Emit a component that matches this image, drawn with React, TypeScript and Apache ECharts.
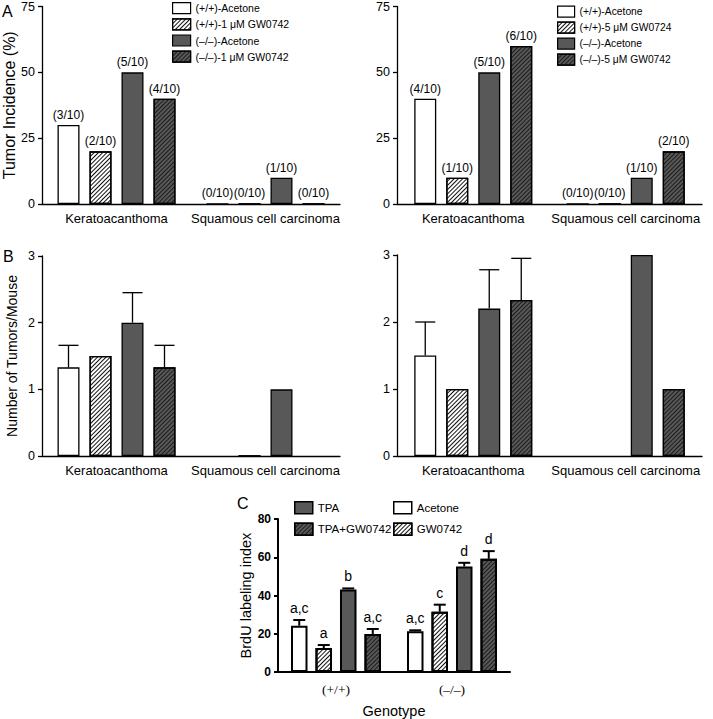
import React, { useEffect, useRef } from 'react';
import * as echarts from 'echarts';

// ---------- data ----------
const tumorTypes = ['Keratoacanthoma', 'Squamous cell carcinoma'];
const legendA1 = ['(+/+)-Acetone', '(+/+)-1 μM GW0742', '(–/–)-Acetone', '(–/–)-1 μM GW0742'];
const legendA2 = ['(+/+)-Acetone', '(+/+)-5 μM GW0724', '(–/–)-Acetone', '(–/–)-5 μM GW0742'];

// [group][tumor type]
const incidenceLeft = [[30, 0], [20, 0], [50, 10], [40, 0]];
const incidenceLeftLabels = [['(3/10)', '(0/10)'], ['(2/10)', '(0/10)'], ['(5/10)', '(1/10)'], ['(4/10)', '(0/10)']];
const incidenceRight = [[40, 0], [10, 0], [50, 10], [60, 20]];
const incidenceRightLabels = [['(4/10)', '(0/10)'], ['(1/10)', '(0/10)'], ['(5/10)', '(1/10)'], ['(6/10)', '(2/10)']];

const tumorsLeft = [[1.33, null], [1.5, 0], [2.0, 1.0], [1.33, null]];
const tumorsLeftErr = [[1.66, null], [null, null], [2.45, null], [1.66, null]];
const tumorsRight = [[1.5, null], [1.0, null], [2.2, 3.0], [2.33, 1.0]];
const tumorsRightErr = [[2.0, null], [null, null], [2.78, null], [2.95, null]];

const genotypes = ['(+/+)', '(–/–)'];
const brduGroups = ['Acetone', 'GW0742', 'TPA', 'TPA+GW0742'];
const brduMean = [[24.2, 21.3], [12.5, 31.5], [43.2, 55.2], [19.9, 59.2]];
const brduErr = [[27.2, 21.8], [14.1, 35.2], [43.7, 57.1], [22.5, 63.2]];
const brduLetters = [['a,c', 'a,c'], ['a', 'c'], ['b', 'd'], ['a,c', 'd']];

const yTicksA = [0, 25, 50, 75];
const yTicksB = [0, 1, 2, 3];
const yTicksC = [0, 20, 40, 60, 80];

// ---------- styles ----------
const FONT = '"Liberation Sans", Arial, Helvetica, sans-serif';
const SERIF = '"Liberation Serif", "Times New Roman", serif';
const WHITE = '#ffffff';
const DARK = '#585858';
const hatchLight = { symbol: 'rect', symbolSize: 1, color: '#111111', dashArrayX: [1, 0], dashArrayY: [1, 1.6], rotation: -Math.PI / 4 };
const hatchDark = { symbol: 'rect', symbolSize: 1, color: '#1c1c1c', dashArrayX: [1, 0], dashArrayY: [1, 1.6], rotation: -Math.PI / 4 };
const fills = [WHITE, WHITE, DARK, DARK];
const decals: any[] = [null, hatchLight, null, hatchDark];

function barSeries(names: string[], values: (number | null)[][], gi: number, bw: number, gapPct: number, borderW: number, labels?: string[][]) {
  return values.map((row, g) => {
    const itemStyle: any = { color: fills[g], borderColor: '#000', borderWidth: borderW };
    if (decals[g]) itemStyle.decal = decals[g];
    return {
      type: 'bar',
      name: names[g],
      xAxisIndex: gi,
      yAxisIndex: gi,
      data: row.map((v) => (v == null ? '-' : v)),
      barWidth: bw,
      barGap: (gapPct * 100).toFixed(2) + '%',
      itemStyle,
      emphasis: { disabled: true },
      silent: true,
      z: 2,
      label: labels
        ? {
            show: true,
            position: 'top',
            distance: 4,
            fontSize: 12,
            fontFamily: FONT,
            color: '#000',
            formatter: (p: any) => labels[g][p.dataIndex],
          }
        : { show: false },
    };
  });
}

function errSeries(gi: number, means: (number | null)[][], errs: (number | null)[][], letters: string[][] | null, bw: number, gapPct: number, capHalf: number, lw: number, fontSize: number) {
  const data: number[][] = [];
  const texts: string[] = [];
  means.forEach((row, g) =>
    row.forEach((v, c) => {
      if (v == null) return;
      const e = errs[g][c];
      const t = letters ? letters[g][c] : '';
      if (e == null && !t) return;
      data.push([c, g, v, e == null ? v : e]);
      texts.push(t);
    })
  );
  return {
    type: 'custom',
    xAxisIndex: gi,
    yAxisIndex: gi,
    z: 5,
    silent: true,
    itemStyle: { color: '#000' },
    encode: { x: 0, y: [2, 3] },
    data,
    renderItem: (params: any, api: any) => {
      const c = api.value(0);
      const g = api.value(1);
      const v = api.value(2);
      const e = api.value(3);
      const gap = bw * gapPct;
      const total = 4 * bw + 3 * gap;
      const cx = api.coord([c, 0])[0];
      const x = cx - total / 2 + g * (bw + gap) + bw / 2;
      const y0 = api.coord([c, v])[1];
      const y1 = api.coord([c, e])[1];
      const children: any[] = [];
      if (e > v) {
        children.push({ type: 'line', shape: { x1: x, y1: y0, x2: x, y2: y1 }, style: { stroke: '#000', lineWidth: lw } });
        children.push({ type: 'line', shape: { x1: x - capHalf, y1: y1, x2: x + capHalf, y2: y1 }, style: { stroke: '#000', lineWidth: lw } });
      }
      const t = texts[params.dataIndex];
      if (t) {
        children.push({
          type: 'text',
          x,
          y: y1 - 5,
          style: { text: t, align: 'center', verticalAlign: 'bottom', fontSize, fontFamily: FONT, fill: '#000000' },
        });
      }
      return { type: 'group', children };
    },
  };
}

function xAxis(gi: number, data: string[], lw: number, labelFont: any, name?: string) {
  return {
    type: 'category',
    gridIndex: gi,
    data,
    axisLine: { lineStyle: { color: '#000', width: lw } },
    axisTick: { alignWithLabel: true, interval: 0, length: 4, lineStyle: { color: '#000', width: lw } },
    axisLabel: { color: '#000', margin: 8, interval: 0, ...labelFont },
    name: name || '',
    nameLocation: 'middle',
    nameGap: 31,
    nameTextStyle: { color: '#000', fontSize: 14.5, fontFamily: FONT },
  };
}

function yAxis(gi: number, ticks: number[], lw: number, labelFont: any, name: string, nameSize: number, nameGap: number) {
  return {
    type: 'value',
    gridIndex: gi,
    min: ticks[0],
    max: ticks[ticks.length - 1],
    interval: ticks[1] - ticks[0],
    axisLine: { show: true, lineStyle: { color: '#000', width: lw } },
    axisTick: { show: true, length: 4, lineStyle: { color: '#000', width: lw } },
    splitLine: { show: false },
    axisLabel: { color: '#000', margin: 7, ...labelFont },
    name,
    nameLocation: 'middle',
    nameGap,
    nameTextStyle: { color: '#000', fontSize: nameSize, fontFamily: FONT },
  };
}

function legend(data: string[], left: number, top: number, itemW: number, itemH: number, gap: number, fontSize: number, bw: number) {
  return {
    data,
    left,
    top,
    orient: 'vertical',
    itemWidth: itemW,
    itemHeight: itemH,
    itemGap: gap,
    padding: 0,
    icon: 'rect',
    selectedMode: false,
    itemStyle: { borderColor: '#000', borderWidth: bw },
    textStyle: { fontSize, lineHeight: itemH, color: '#000', fontFamily: FONT },
  };
}

export default function App() {
  const ref = useRef<HTMLDivElement>(null);
  useEffect(() => {
    if (!ref.current) return;
    const chart = echarts.init(ref.current, undefined, { renderer: 'svg' });
    const abFont = { fontSize: 12.5, fontFamily: FONT };
    const option: any = {
      animation: false,
      backgroundColor: '#ffffff',
      grid: [
        { left: 42, top: 5, width: 298, height: 199 },
        { left: 397, top: 5, width: 305, height: 199 },
        { left: 42, top: 256, width: 298, height: 200 },
        { left: 397, top: 255, width: 305, height: 201 },
        { left: 278, top: 519, width: 232, height: 153 },
      ],
      xAxis: [
        xAxis(0, tumorTypes, 1.3, { fontSize: 13, fontFamily: FONT }),
        xAxis(1, tumorTypes, 1.3, { fontSize: 13, fontFamily: FONT }),
        xAxis(2, tumorTypes, 1.3, { fontSize: 13, fontFamily: FONT }),
        xAxis(3, tumorTypes, 1.3, { fontSize: 13, fontFamily: FONT }),
        { ...xAxis(4, genotypes, 2, { fontSize: 13.5, fontFamily: SERIF, margin: 10 }, 'Genotype'), axisTick: { alignWithLabel: true, interval: 0, length: 5, lineStyle: { color: '#000', width: 2 } } },
      ],
      yAxis: [
        yAxis(0, yTicksA, 1.3, abFont, 'Tumor Incidence (%)', 16, 22),
        yAxis(1, yTicksA, 1.3, abFont, '', 14, 20),
        yAxis(2, yTicksB, 1.3, abFont, 'Number of Tumors/Mouse', 14, 23),
        yAxis(3, yTicksB, 1.3, abFont, '', 14, 20),
        yAxis(4, yTicksC, 2, { fontSize: 12, fontWeight: 'bold', fontFamily: FONT }, 'BrdU labeling index', 14.5, 14),
      ],
      legend: [
        legend(legendA1, 172, 2, 18, 11, 4, 10.5, 1.2),
        legend(legendA2, 557, 5.5, 17, 11, 3.8, 10.3, 1.2),
        legend([brduGroups[2], brduGroups[3]], 294, 501, 18, 12, 8, 11.5, 1.5),
        legend([brduGroups[0], brduGroups[1]], 393, 501, 18, 12, 8, 11.5, 1.5),
      ],
      graphic: [
        { type: 'text', left: 2, top: 3, style: { text: 'A', fontSize: 16, fontFamily: FONT, fill: '#000' } },
        { type: 'text', left: 3, top: 248, style: { text: 'B', fontSize: 16, fontFamily: FONT, fill: '#000' } },
        { type: 'text', left: 237, top: 495, style: { text: 'C', fontSize: 16, fontFamily: FONT, fill: '#000' } },
      ],
      series: [
        ...barSeries(legendA1, incidenceLeft, 0, 22, 10 / 22, 1.3, incidenceLeftLabels),
        ...barSeries(legendA2, incidenceRight, 1, 22, 10 / 22, 1.3, incidenceRightLabels),
        ...barSeries(legendA1, tumorsLeft, 2, 22, 10 / 22, 1.3),
        ...barSeries(legendA2, tumorsRight, 3, 22, 10 / 22, 1.3),
        ...barSeries(brduGroups, brduMean, 4, 16.5, 8 / 16.5, 2),
        errSeries(2, tumorsLeft, tumorsLeftErr, null, 22, 10 / 22, 10, 1.3, 12),
        errSeries(3, tumorsRight, tumorsRightErr, null, 22, 10 / 22, 10, 1.3, 12),
        errSeries(4, brduMean, brduErr, brduLetters, 16.5, 8 / 16.5, 6, 2, 14),
      ],
    };
    chart.setOption(option);
    return () => chart.dispose();
  }, []);
  return <div ref={ref} style={{ position: 'fixed', left: 0, top: 0, width: 713, height: 719, background: '#fff' }} />;
}
